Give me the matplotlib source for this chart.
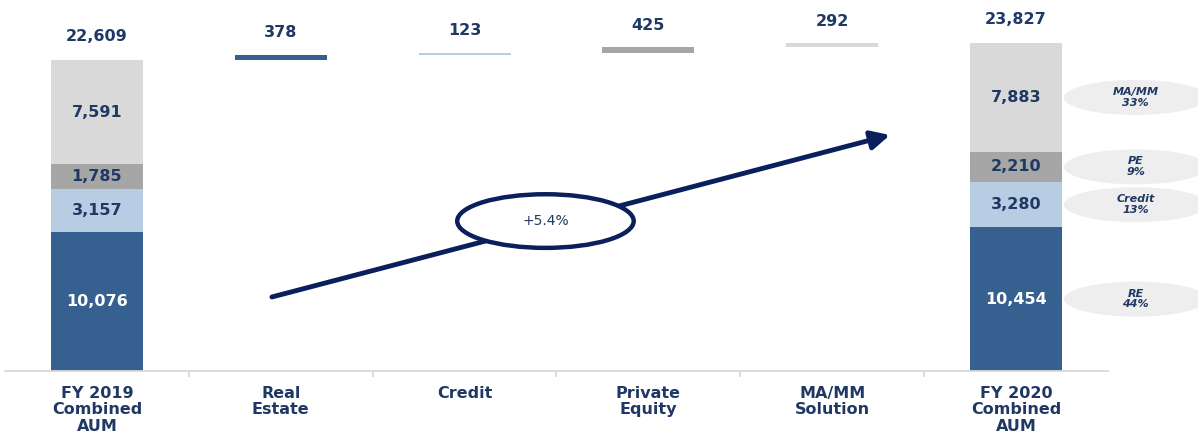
import matplotlib
matplotlib.use("Agg")
import matplotlib.pyplot as plt
from matplotlib.patches import Ellipse
import numpy as np

# AUM bridge, FY 2019 -> FY 2020
categories = ["FY 2019\nCombined\nAUM", "Real\nEstate", "Credit", "Private\nEquity",
              "MA/MM\nSolution", "FY 2020\nCombined\nAUM"]
segments = ["RE", "Credit", "PE", "MA/MM"]
fy2019 = [10076, 3157, 1785, 7591]
fy2020 = [10454, 3280, 2210, 7883]
changes = [378, 123, 425, 292]
shares = ["44%", "13%", "9%", "33%"]
growth_label = "+5.4%"

seg_colors = ["#35608F", "#B8CCE4", "#A6A6A6", "#D9D9D9"]
seg_text = ["white", "#1F3864", "#1F3864", "#1F3864"]
navy = "#1F3864"
arrow_navy = "#0A1F5C"

fig = plt.figure(figsize=(11.98, 4.34), dpi=100)
ax = fig.add_axes([0.00417, 0.1452, 0.9207, 0.8548])
ax.set_xlim(-0.5, 5.5)
ax.set_ylim(0, 26972)

width = 0.5
font = dict(family="DejaVu Sans", fontweight="bold", color=navy)

# stacked end bars
for xpos, vals in [(0, fy2019), (5, fy2020)]:
    bottom = 0
    for v, c, tc in zip(vals, seg_colors, seg_text):
        ax.bar(xpos, v, width, bottom=bottom, color=c, edgecolor="none")
        ax.text(xpos, bottom + v / 2, f"{v:,}", ha="center", va="center",
                fontsize=11.5, family="DejaVu Sans", fontweight="bold", color=tc)
        bottom += v
    ax.annotate(f"{bottom:,}", (xpos, bottom), xytext=(0, 17), textcoords="offset points",
                ha="center", va="center", fontsize=11.5, **font)

# floating change bars
start = sum(fy2019)
for i, (v, c) in enumerate(zip(changes, seg_colors)):
    ax.bar(i + 1, v, width, bottom=start, color=c, edgecolor="none")
    ax.annotate(f"{v:,}", (i + 1, start + v), xytext=(0, 16), textcoords="offset points",
                ha="center", va="center", fontsize=11.5, **font)
    start += v

# share bubbles beside the FY 2020 bar
bottom = 0
for name, v, s in zip(segments, fy2020, shares):
    yc = bottom + v / 2
    ax.add_patch(Ellipse((5.65, yc), 0.78, 2550, facecolor="#EEEEEE", edgecolor="none",
                         clip_on=False))
    ax.text(5.65, yc, f"{name}\n{s}", ha="center", va="center", fontsize=8,
            fontstyle="italic", linespacing=1.1, clip_on=False, **font)
    bottom += v

# growth arrow with CAGR bubble
ax.annotate("", xy=(4.314, 17157), xytext=(0.952, 5380),
            arrowprops=dict(arrowstyle="-|>", lw=3.5, color=arrow_navy,
                            mutation_scale=28, shrinkA=0, shrinkB=0))
ax.add_patch(Ellipse((2.44, 10900), 0.96, 3900, facecolor="white",
                     edgecolor=arrow_navy, lw=3.2, zorder=5))
ax.text(2.44, 10900, growth_label, ha="center", va="center", fontsize=10,
        zorder=6, family="DejaVu Sans", color=navy)

# axis styling
for s in ["top", "right", "left"]:
    ax.spines[s].set_visible(False)
ax.spines["bottom"].set_color("#D9D9D9")
ax.spines["bottom"].set_linewidth(1.3)
ax.set_yticks([])
ax.set_xticks(np.arange(len(categories)))
ax.set_xticklabels(categories, fontsize=11.5, fontweight="bold", color=navy,
                   family="DejaVu Sans", linespacing=1.1)
ax.tick_params(axis="x", which="major", length=0, pad=11)
ax.set_xticks(np.arange(len(categories) - 1) + 0.5, minor=True)
ax.tick_params(axis="x", which="minor", length=4, color="#D9D9D9", width=1.3)

fig.savefig("out.png", dpi=100)
